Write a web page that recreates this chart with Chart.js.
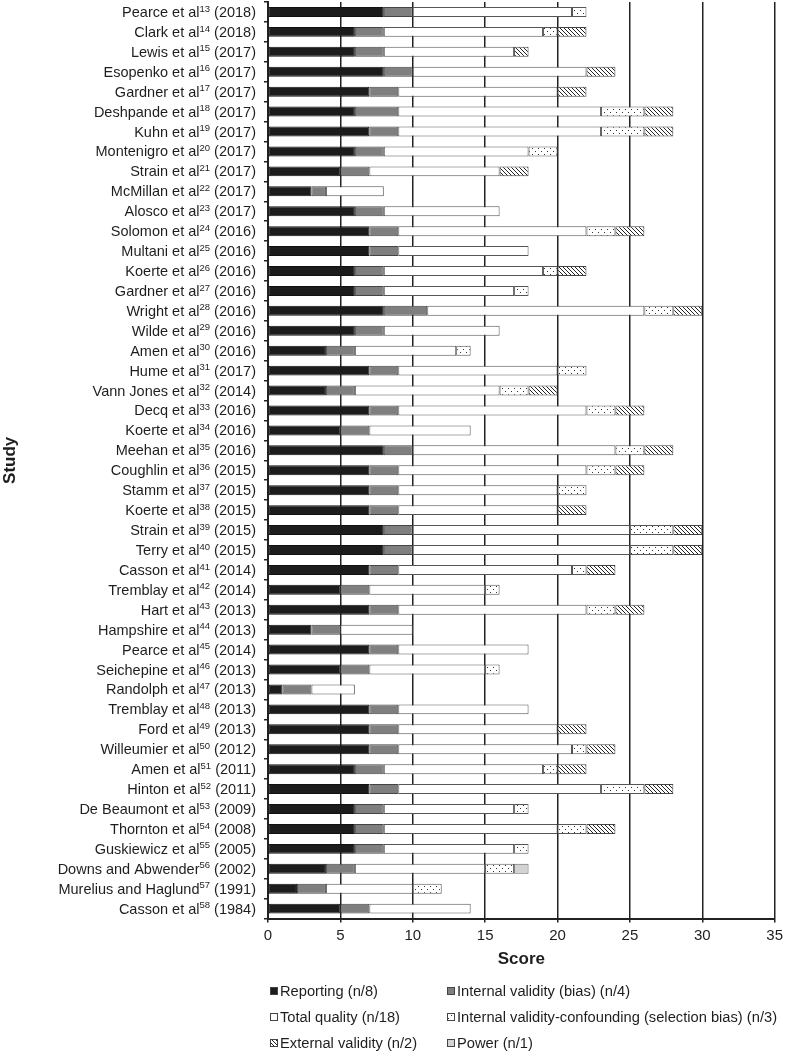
<!DOCTYPE html>
<html>
<head>
<meta charset="utf-8">
<script src="https://cdn.jsdelivr.net/npm/chart.js@4.4.0/dist/chart.umd.min.js"></script>
<style>
  html, body { margin: 0; padding: 0; background: #fff; }
  #wrap { width: 787px; height: 1052px; }
</style>
</head>
<body>
<div id="wrap"><canvas id="chart"></canvas></div>
<script>
const studies = ["Pearce et al", "Clark et al", "Lewis et al", "Esopenko et al", "Gardner et al", "Deshpande et al",
  "Kuhn et al", "Montenigro et al", "Strain et al", "McMillan et al", "Alosco et al", "Solomon et al",
  "Multani et al", "Koerte et al", "Gardner et al", "Wright et al", "Wilde et al", "Amen et al",
  "Hume et al", "Vann Jones et al", "Decq et al", "Koerte et al", "Meehan et al", "Coughlin et al",
  "Stamm et al", "Koerte et al", "Strain et al", "Terry et al", "Casson et al", "Tremblay et al",
  "Hart et al", "Hampshire et al", "Pearce et al", "Seichepine et al", "Randolph et al", "Tremblay et al",
  "Ford et al", "Willeumier et al", "Amen et al", "Hinton et al", "De Beaumont et al", "Thornton et al",
  "Guskiewicz et al", "Downs and Abwender", "Murelius and Haglund", "Casson et al"]
const refs = ["13", "14", "15", "16", "17", "18", "19", "20", "21", "22", "23", "24", "25", "26", "27", "28",
  "29", "30", "31", "32", "33", "34", "35", "36", "37", "38", "39", "40", "41", "42", "43", "44", "45", "46",
  "47", "48", "49", "50", "51", "52", "53", "54", "55", "56", "57", "58"]
const years = ["2018", "2018", "2017", "2017", "2017", "2017", "2017", "2017", "2017", "2017", "2017", "2016",
  "2016", "2016", "2016", "2016", "2016", "2016", "2017", "2014", "2016", "2016", "2016", "2015",
  "2015", "2015", "2015", "2015", "2014", "2014", "2013", "2013", "2014", "2013", "2013", "2013",
  "2013", "2012", "2011", "2011", "2009", "2008", "2005", "2002", "1991", "1984"]

// segment lengths, one per study, in the order drawn left to right
const reporting = [8, 6, 6, 8, 7, 6, 7, 6, 5, 3, 6, 7, 7, 6, 6, 8, 6, 4, 7, 4, 7, 5, 8, 7,
  7, 7, 8, 8, 7, 5, 7, 3, 7, 5, 1, 7, 7, 7, 6, 7, 6, 6, 6, 4, 2, 5]
const bias = [2, 2, 2, 2, 2, 3, 2, 2, 2, 1, 2, 2, 2, 2, 2, 3, 2, 2, 2, 2, 2, 2, 2, 2,
  2, 2, 2, 2, 2, 2, 2, 2, 2, 2, 2, 2, 2, 2, 2, 2, 2, 2, 2, 2, 2, 2]
const totalQuality = [11, 11, 9, 12, 11, 14, 14, 10, 9, 4, 8, 13, 9, 11, 9, 15, 8, 7, 11, 10, 13, 7, 14, 13,
  11, 11, 15, 15, 12, 8, 13, 5, 9, 8, 3, 9, 11, 12, 11, 14, 9, 12, 9, 9, 6, 7]
const confounding = [1, 1, 0, 0, 0, 3, 3, 2, 0, 0, 0, 2, 0, 1, 1, 2, 0, 1, 2, 2, 2, 0, 2, 2,
  2, 0, 3, 3, 1, 1, 2, 0, 0, 1, 0, 0, 0, 1, 1, 3, 1, 2, 1, 2, 2, 0]
const external = [0, 2, 1, 2, 2, 2, 2, 0, 2, 0, 0, 2, 0, 2, 0, 2, 0, 0, 0, 2, 2, 0, 2, 2,
  0, 2, 2, 2, 2, 0, 2, 0, 0, 0, 0, 0, 2, 2, 2, 2, 0, 2, 0, 0, 0, 0]
const power = [0, 0, 0, 0, 0, 0, 0, 0, 0, 0, 0, 0, 0, 0, 0, 0, 0, 0, 0, 0, 0, 0, 0, 0,
  0, 0, 0, 0, 0, 0, 0, 0, 0, 0, 0, 0, 0, 0, 0, 0, 0, 0, 0, 1, 0, 0]

const seriesNames = ["Reporting (n/8)", "Internal validity (bias) (n/4)", "Total quality (n/18)",
  "Internal validity-confounding (selection bias) (n/3)", "External validity (n/2)", "Power (n/1)"]
const xMin = 0
const xMax = 35
const xStep = 5

const FONT = "'Liberation Sans', Arial, sans-serif"
const ink = "#1e1e1e"

function makePattern(w, h, draw) {
  const c = document.createElement("canvas")
  c.width = w
  c.height = h
  const g = c.getContext("2d")
  g.fillStyle = "#fff"
  g.fillRect(0, 0, w, h)
  draw(g)
  return document.getElementById("chart").getContext("2d").createPattern(c, "repeat")
}

const dots = makePattern(6, 6, g => {
  g.fillStyle = "#333"
  g.fillRect(1, 1, 1, 1)
  g.fillRect(4, 4, 1, 1)
})
const hatch = makePattern(4, 4, g => {
  g.strokeStyle = "#222"
  g.lineWidth = 1
  g.beginPath()
  g.moveTo(-1, -1)
  g.lineTo(5, 5)
  g.moveTo(-1, 3)
  g.lineTo(1, 5)
  g.moveTo(3, -1)
  g.lineTo(5, 1)
  g.stroke()
})

const fills = ["#1c1c1c", "#7f7f7f", "#ffffff", dots, hatch, "#d3d3d3"]
const edges = ["#111", "#444", "#555", "#555", "#444", "#666"]
const values = [reporting, bias, totalQuality, confounding, external, power]

const datasets = values.map((arr, i) => ({
  label: seriesNames[i],
  data: arr.map(v => v === 0 ? null : v),
  backgroundColor: fills[i],
  borderColor: edges[i],
  borderWidth: 1,
  borderSkipped: false,
  barPercentage: 0.5,
  categoryPercentage: 1
}))

const studyLabels = {
  id: "studyLabels",
  afterDraw(chart) {
    const ctx = chart.ctx
    const yScale = chart.scales.y
    const right = chart.chartArea.left - 12
    ctx.save()
    ctx.fillStyle = ink
    ctx.textBaseline = "middle"
    ctx.textAlign = "left"
    studies.forEach((name, i) => {
      const cy = yScale.getPixelForValue(i)
      const tail = " (" + years[i] + ")"
      ctx.font = "14.5px " + FONT
      const wName = ctx.measureText(name).width
      const wTail = ctx.measureText(tail).width
      ctx.font = "9.5px " + FONT
      const wSup = ctx.measureText(refs[i]).width
      let x = right - wName - wSup - wTail
      ctx.font = "14.5px " + FONT
      ctx.fillText(name, x, cy + 1)
      x += wName
      ctx.font = "9.5px " + FONT
      ctx.fillText(refs[i], x, cy - 3)
      x += wSup
      ctx.font = "14.5px " + FONT
      ctx.fillText(tail, x, cy + 1)
    })
    ctx.restore()
  }
}

const boxLegend = {
  id: "boxLegend",
  afterDraw(chart) {
    const ctx = chart.ctx
    const left = chart.chartArea.left
    const cols = [left + 2, left + 179]
    const rows = [991, 1017, 1043]
    ctx.save()
    ctx.font = "14.7px " + FONT
    ctx.textBaseline = "middle"
    seriesNames.forEach((name, i) => {
      const x = cols[i % 2]
      const y = rows[Math.floor(i / 2)]
      ctx.fillStyle = fills[i]
      ctx.fillRect(x, y - 4, 8, 8)
      ctx.strokeStyle = "#444"
      ctx.lineWidth = 1
      ctx.strokeRect(x + 0.5, y - 3.5, 7, 7)
      ctx.fillStyle = ink
      ctx.fillText(name, x + 10, y + 1)
    })
    ctx.restore()
  }
}

Chart.defaults.font.family = FONT
Chart.defaults.color = ink

new Chart(document.getElementById("chart"), {
  type: "bar",
  data: {
    labels: studies.map((s, i) => s + refs[i] + " (" + years[i] + ")"),
    datasets: datasets
  },
  options: {
    indexAxis: "y",
    responsive: true,
    maintainAspectRatio: false,
    animation: false,
    layout: { padding: { top: 2, right: 9, bottom: 82, left: 0 } },
    plugins: {
      legend: { display: false },
      tooltip: { enabled: false }
    },
    scales: {
      x: {
        stacked: true,
        min: xMin,
        max: xMax,
        ticks: { stepSize: xStep, font: { size: 15 }, color: ink, padding: 4 },
        grid: { color: "#222", lineWidth: 1.5, tickLength: 4, z: -1 },
        border: { color: "#222", width: 2 },
        title: { display: true, text: "Score", font: { size: 17, weight: "bold" }, color: ink, padding: { top: 1, bottom: 0 } }
      },
      y: {
        stacked: true,
        ticks: { display: false },
        grid: { drawOnChartArea: false, color: "#222", lineWidth: 1.5, tickLength: 4, offset: true, z: -1 },
        border: { color: "#222", width: 2 },
        title: { display: true, text: "Study", font: { size: 17, weight: "bold" }, color: ink, padding: { top: 0, bottom: 0 } },
        afterFit(scale) { scale.width = 268 }
      }
    }
  },
  plugins: [studyLabels, boxLegend]
})
</script>
</body>
</html>
